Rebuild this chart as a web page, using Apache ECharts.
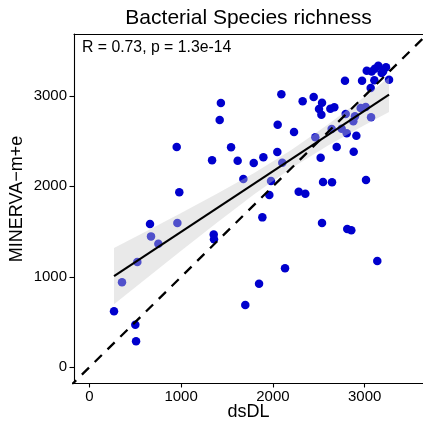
<!DOCTYPE html>
<html><head><meta charset="utf-8">
<script src="https://cdn.jsdelivr.net/npm/echarts@6/dist/echarts.min.js"></script>
<style>html,body{margin:0;padding:0;background:#fff}#c{width:423px;height:431px}</style>
</head><body><div id="c"></div>
<script>
const titleText = 'Bacterial Species richness';
const xName = 'dsDL';
const yName = 'MINERVA\u2212m+e';
const statText = 'R = 0.73, p = 1.3e-14';
const xTicks = [0, 1000, 2000, 3000];
const yTicks = [0, 1000, 2000, 3000];

const dsDL = [1433,1420,952,1544,1337,1616,1678,980,2092,2324,2444,2535,2502,2528,2626,2669,2785,2971,3022,3076,3148,3232,3185,3105,3065,3265,2793,2894,2956,3011,3069,2876,2052,2230,2462,2640,2749,2804,2909,2695,2880,2520,2048,1896,1791,2102,1979,1961,2281,2353,2546,2644,3014,661,959,672,752,523,356,1355,1358,269,501,509,1699,1885,2535,2810,2854,3137,2132,1849,3110,3200];
const minerva = [2920,2733,2434,2431,2287,2283,2081,1934,3016,2939,2987,2924,2854,2792,2858,2873,3167,3167,3277,3270,3333,3315,3252,3171,3086,3178,2799,2773,2865,2876,2762,2718,2681,2600,2541,2633,2636,2586,2560,2434,2382,2316,2379,2320,2257,2261,2059,1904,1940,1918,2048,2044,2070,1583,1594,1447,1366,1163,939,1469,1414,619,471,287,688,1657,1594,1528,1514,1174,1094,924,3300,3270];

const fitX = [269, 3265];
const fitY = [1008, 3012];
const bandX = [269, 600, 1000, 1400, 1800, 2200, 2600, 3000, 3265];
const bandLo = [697, 965, 1288, 1607, 1915, 2200, 2450, 2678, 2822];
const bandHi = [1319, 1493, 1706, 1923, 2149, 2400, 2684, 2992, 3202];
const idX = [-500, 4000];

const pts = dsDL.map((x, i) => [x, minerva[i]]);
const font = 'Liberation Sans, Arial, sans-serif';

const chart = echarts.init(document.getElementById('c'));
chart.setOption({
  animation: false,
  backgroundColor: '#fff',
  grid: {left: 74, right: 0, top: 34, bottom: 48},
  xAxis: [{
    type: 'value', min: -167, max: 3635,
    splitLine: {show: false},
    axisLine: {show: true, onZero: false, lineStyle: {color: '#000', width: 1.1}},
    axisTick: {show: true, length: 4.5, customValues: xTicks, lineStyle: {color: '#000', width: 1.1}},
    axisLabel: {color: '#000', fontSize: 15, fontFamily: font, margin: 6,
      customValues: xTicks, formatter: v => String(v)}
  }, {
    type: 'value', position: 'top', min: -167, max: 3635,
    splitLine: {show: false}, axisTick: {show: false}, axisLabel: {show: false},
    axisLine: {show: true, onZero: false, lineStyle: {color: '#000', width: 1.1}}
  }],
  yAxis: {
    type: 'value', min: -173, max: 3683,
    splitLine: {show: false},
    axisLine: {show: true, onZero: false, lineStyle: {color: '#000', width: 1.1}},
    axisTick: {show: true, length: 4.5, customValues: yTicks, lineStyle: {color: '#000', width: 1.1}},
    axisLabel: {color: '#000', fontSize: 15, fontFamily: font, margin: 7, customValues: yTicks, formatter: v => String(v)}
  },
  series: [
    {type: 'scatter', data: pts, symbolSize: 8.5, itemStyle: {color: '#0000CD', opacity: 1}, z: 2},
    {type: 'custom', z: 3, data: [0], silent: true,
      renderItem: function (params, api) {
        const p = [];
        for (let i = 0; i < bandX.length; i++) p.push(api.coord([bandX[i], bandHi[i]]));
        for (let i = bandX.length - 1; i >= 0; i--) p.push(api.coord([bandX[i], bandLo[i]]));
        return {type: 'polygon', shape: {points: p}, style: {fill: 'rgba(200,200,200,0.4)'}};
      }},
    {type: 'line', z: 4, data: fitX.map((x, i) => [x, fitY[i]]), symbol: 'none',
      lineStyle: {color: '#000', width: 2.1}},
    {type: 'line', z: 5, data: idX.map(x => [x, x]), symbol: 'none', clip: true,
      lineStyle: {color: '#000', width: 2.3, type: [10, 8]}}
  ],
  graphic: [
    {type: 'text', x: 248.5, y: 18, style: {text: titleText, font: '21px ' + font, fill: '#000', align: 'center', verticalAlign: 'middle'}},
    {type: 'text', x: 248.5, y: 412, style: {text: xName, font: '18px ' + font, fill: '#000', align: 'center', verticalAlign: 'middle'}},
    {type: 'text', x: 17, y: 199, rotation: Math.PI / 2, style: {text: yName, font: '18px ' + font, fill: '#000', align: 'center', verticalAlign: 'middle'}},
    {type: 'text', x: 82, y: 48, style: {text: statText, font: '15.8px ' + font, fill: '#000', align: 'left', verticalAlign: 'middle'}}
  ]
});
</script></body></html>
